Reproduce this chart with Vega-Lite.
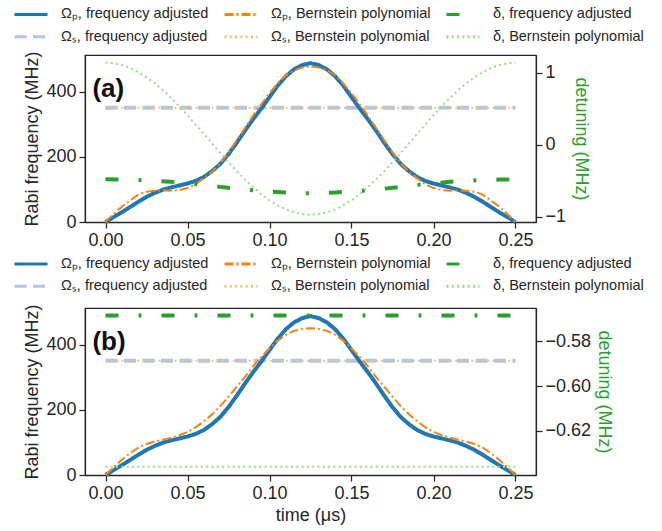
{
  "$schema": "https://vega.github.io/schema/vega-lite/v6.json",
  "padding": {"left": 12, "top": 4, "right": 5, "bottom": 5},
  "config": {
    "font": "Liberation Sans",
    "view": {"stroke": "#262626", "strokeWidth": 1.25},
    "axis": {
      "grid": false,
      "domainColor": "#262626",
      "domainWidth": 1.25,
      "tickColor": "#262626",
      "tickWidth": 1.25,
      "tickSize": 6,
      "labelFont": "Liberation Sans",
      "labelFontSize": 18,
      "labelColor": "#262626",
      "labelPadding": 3,
      "titleFont": "Liberation Sans",
      "titleFontSize": 18,
      "titleFontWeight": "normal",
      "titleColor": "#262626"
    },
    "legend": {
      "title": null,
      "columns": 3,
      "symbolType": "stroke",
      "symbolSize": 1089,
      "symbolStrokeWidth": 3,
      "clipHeight": 18,
      "rowPadding": 4.3,
      "columnPadding": 14,
      "labelOffset": 12,
      "labelFont": "Liberation Sans",
      "labelFontSize": 14.5,
      "labelColor": "#262626",
      "labelLimit": 300,
      "padding": 0
    }
  },
  "datasets": {
    "curves": [
      {"panel": "a", "series": "Ωₛ, frequency adjusted", "t": 0, "v": 350},
      {"panel": "a", "series": "Ωₛ, frequency adjusted", "t": 0.25, "v": 350},
      {"panel": "a", "series": "Ωₛ, Bernstein polynomial", "t": 0, "v": 350},
      {"panel": "a", "series": "Ωₛ, Bernstein polynomial", "t": 0.25, "v": 350},
      {"panel": "a", "series": "Ωₚ, frequency adjusted", "t": 0, "v": 0},
      {"panel": "a", "series": "Ωₚ, frequency adjusted", "t": 0.005, "v": 15},
      {"panel": "a", "series": "Ωₚ, frequency adjusted", "t": 0.01, "v": 30},
      {"panel": "a", "series": "Ωₚ, frequency adjusted", "t": 0.015, "v": 46},
      {"panel": "a", "series": "Ωₚ, frequency adjusted", "t": 0.02, "v": 62},
      {"panel": "a", "series": "Ωₚ, frequency adjusted", "t": 0.025, "v": 77},
      {"panel": "a", "series": "Ωₚ, frequency adjusted", "t": 0.03, "v": 89},
      {"panel": "a", "series": "Ωₚ, frequency adjusted", "t": 0.035, "v": 99},
      {"panel": "a", "series": "Ωₚ, frequency adjusted", "t": 0.04, "v": 106},
      {"panel": "a", "series": "Ωₚ, frequency adjusted", "t": 0.045, "v": 112},
      {"panel": "a", "series": "Ωₚ, frequency adjusted", "t": 0.05, "v": 118},
      {"panel": "a", "series": "Ωₚ, frequency adjusted", "t": 0.055, "v": 126},
      {"panel": "a", "series": "Ωₚ, frequency adjusted", "t": 0.06, "v": 138},
      {"panel": "a", "series": "Ωₚ, frequency adjusted", "t": 0.065, "v": 156},
      {"panel": "a", "series": "Ωₚ, frequency adjusted", "t": 0.07, "v": 178},
      {"panel": "a", "series": "Ωₚ, frequency adjusted", "t": 0.075, "v": 208},
      {"panel": "a", "series": "Ωₚ, frequency adjusted", "t": 0.08, "v": 243},
      {"panel": "a", "series": "Ωₚ, frequency adjusted", "t": 0.085, "v": 280},
      {"panel": "a", "series": "Ωₚ, frequency adjusted", "t": 0.09, "v": 315},
      {"panel": "a", "series": "Ωₚ, frequency adjusted", "t": 0.095, "v": 348},
      {"panel": "a", "series": "Ωₚ, frequency adjusted", "t": 0.1, "v": 383},
      {"panel": "a", "series": "Ωₚ, frequency adjusted", "t": 0.105, "v": 418},
      {"panel": "a", "series": "Ωₚ, frequency adjusted", "t": 0.11, "v": 447},
      {"panel": "a", "series": "Ωₚ, frequency adjusted", "t": 0.115, "v": 468},
      {"panel": "a", "series": "Ωₚ, frequency adjusted", "t": 0.12, "v": 481},
      {"panel": "a", "series": "Ωₚ, frequency adjusted", "t": 0.125, "v": 487},
      {"panel": "a", "series": "Ωₚ, frequency adjusted", "t": 0.13, "v": 481},
      {"panel": "a", "series": "Ωₚ, frequency adjusted", "t": 0.135, "v": 468},
      {"panel": "a", "series": "Ωₚ, frequency adjusted", "t": 0.14, "v": 447},
      {"panel": "a", "series": "Ωₚ, frequency adjusted", "t": 0.145, "v": 418},
      {"panel": "a", "series": "Ωₚ, frequency adjusted", "t": 0.15, "v": 383},
      {"panel": "a", "series": "Ωₚ, frequency adjusted", "t": 0.155, "v": 348},
      {"panel": "a", "series": "Ωₚ, frequency adjusted", "t": 0.16, "v": 315},
      {"panel": "a", "series": "Ωₚ, frequency adjusted", "t": 0.165, "v": 280},
      {"panel": "a", "series": "Ωₚ, frequency adjusted", "t": 0.17, "v": 243},
      {"panel": "a", "series": "Ωₚ, frequency adjusted", "t": 0.175, "v": 208},
      {"panel": "a", "series": "Ωₚ, frequency adjusted", "t": 0.18, "v": 178},
      {"panel": "a", "series": "Ωₚ, frequency adjusted", "t": 0.185, "v": 156},
      {"panel": "a", "series": "Ωₚ, frequency adjusted", "t": 0.19, "v": 138},
      {"panel": "a", "series": "Ωₚ, frequency adjusted", "t": 0.195, "v": 126},
      {"panel": "a", "series": "Ωₚ, frequency adjusted", "t": 0.2, "v": 118},
      {"panel": "a", "series": "Ωₚ, frequency adjusted", "t": 0.205, "v": 112},
      {"panel": "a", "series": "Ωₚ, frequency adjusted", "t": 0.21, "v": 106},
      {"panel": "a", "series": "Ωₚ, frequency adjusted", "t": 0.215, "v": 99},
      {"panel": "a", "series": "Ωₚ, frequency adjusted", "t": 0.22, "v": 89},
      {"panel": "a", "series": "Ωₚ, frequency adjusted", "t": 0.225, "v": 77},
      {"panel": "a", "series": "Ωₚ, frequency adjusted", "t": 0.23, "v": 62},
      {"panel": "a", "series": "Ωₚ, frequency adjusted", "t": 0.235, "v": 46},
      {"panel": "a", "series": "Ωₚ, frequency adjusted", "t": 0.24, "v": 30},
      {"panel": "a", "series": "Ωₚ, frequency adjusted", "t": 0.245, "v": 15},
      {"panel": "a", "series": "Ωₚ, frequency adjusted", "t": 0.25, "v": 0},
      {"panel": "a", "series": "Ωₚ, Bernstein polynomial", "t": 0, "v": 0},
      {"panel": "a", "series": "Ωₚ, Bernstein polynomial", "t": 0.005, "v": 25},
      {"panel": "a", "series": "Ωₚ, Bernstein polynomial", "t": 0.01, "v": 47},
      {"panel": "a", "series": "Ωₚ, Bernstein polynomial", "t": 0.015, "v": 66},
      {"panel": "a", "series": "Ωₚ, Bernstein polynomial", "t": 0.02, "v": 84},
      {"panel": "a", "series": "Ωₚ, Bernstein polynomial", "t": 0.025, "v": 93},
      {"panel": "a", "series": "Ωₚ, Bernstein polynomial", "t": 0.03, "v": 96},
      {"panel": "a", "series": "Ωₚ, Bernstein polynomial", "t": 0.035, "v": 97},
      {"panel": "a", "series": "Ωₚ, Bernstein polynomial", "t": 0.04, "v": 96},
      {"panel": "a", "series": "Ωₚ, Bernstein polynomial", "t": 0.045, "v": 98},
      {"panel": "a", "series": "Ωₚ, Bernstein polynomial", "t": 0.05, "v": 104},
      {"panel": "a", "series": "Ωₚ, Bernstein polynomial", "t": 0.055, "v": 116},
      {"panel": "a", "series": "Ωₚ, Bernstein polynomial", "t": 0.06, "v": 134},
      {"panel": "a", "series": "Ωₚ, Bernstein polynomial", "t": 0.065, "v": 154},
      {"panel": "a", "series": "Ωₚ, Bernstein polynomial", "t": 0.07, "v": 180},
      {"panel": "a", "series": "Ωₚ, Bernstein polynomial", "t": 0.075, "v": 213},
      {"panel": "a", "series": "Ωₚ, Bernstein polynomial", "t": 0.08, "v": 250},
      {"panel": "a", "series": "Ωₚ, Bernstein polynomial", "t": 0.085, "v": 288},
      {"panel": "a", "series": "Ωₚ, Bernstein polynomial", "t": 0.09, "v": 326},
      {"panel": "a", "series": "Ωₚ, Bernstein polynomial", "t": 0.095, "v": 361},
      {"panel": "a", "series": "Ωₚ, Bernstein polynomial", "t": 0.1, "v": 395},
      {"panel": "a", "series": "Ωₚ, Bernstein polynomial", "t": 0.105, "v": 425},
      {"panel": "a", "series": "Ωₚ, Bernstein polynomial", "t": 0.11, "v": 450},
      {"panel": "a", "series": "Ωₚ, Bernstein polynomial", "t": 0.115, "v": 465},
      {"panel": "a", "series": "Ωₚ, Bernstein polynomial", "t": 0.12, "v": 474},
      {"panel": "a", "series": "Ωₚ, Bernstein polynomial", "t": 0.125, "v": 477},
      {"panel": "a", "series": "Ωₚ, Bernstein polynomial", "t": 0.13, "v": 474},
      {"panel": "a", "series": "Ωₚ, Bernstein polynomial", "t": 0.135, "v": 465},
      {"panel": "a", "series": "Ωₚ, Bernstein polynomial", "t": 0.14, "v": 450},
      {"panel": "a", "series": "Ωₚ, Bernstein polynomial", "t": 0.145, "v": 425},
      {"panel": "a", "series": "Ωₚ, Bernstein polynomial", "t": 0.15, "v": 395},
      {"panel": "a", "series": "Ωₚ, Bernstein polynomial", "t": 0.155, "v": 361},
      {"panel": "a", "series": "Ωₚ, Bernstein polynomial", "t": 0.16, "v": 326},
      {"panel": "a", "series": "Ωₚ, Bernstein polynomial", "t": 0.165, "v": 288},
      {"panel": "a", "series": "Ωₚ, Bernstein polynomial", "t": 0.17, "v": 250},
      {"panel": "a", "series": "Ωₚ, Bernstein polynomial", "t": 0.175, "v": 213},
      {"panel": "a", "series": "Ωₚ, Bernstein polynomial", "t": 0.18, "v": 180},
      {"panel": "a", "series": "Ωₚ, Bernstein polynomial", "t": 0.185, "v": 154},
      {"panel": "a", "series": "Ωₚ, Bernstein polynomial", "t": 0.19, "v": 134},
      {"panel": "a", "series": "Ωₚ, Bernstein polynomial", "t": 0.195, "v": 116},
      {"panel": "a", "series": "Ωₚ, Bernstein polynomial", "t": 0.2, "v": 104},
      {"panel": "a", "series": "Ωₚ, Bernstein polynomial", "t": 0.205, "v": 98},
      {"panel": "a", "series": "Ωₚ, Bernstein polynomial", "t": 0.21, "v": 96},
      {"panel": "a", "series": "Ωₚ, Bernstein polynomial", "t": 0.215, "v": 97},
      {"panel": "a", "series": "Ωₚ, Bernstein polynomial", "t": 0.22, "v": 96},
      {"panel": "a", "series": "Ωₚ, Bernstein polynomial", "t": 0.225, "v": 93},
      {"panel": "a", "series": "Ωₚ, Bernstein polynomial", "t": 0.23, "v": 84},
      {"panel": "a", "series": "Ωₚ, Bernstein polynomial", "t": 0.235, "v": 66},
      {"panel": "a", "series": "Ωₚ, Bernstein polynomial", "t": 0.24, "v": 47},
      {"panel": "a", "series": "Ωₚ, Bernstein polynomial", "t": 0.245, "v": 25},
      {"panel": "a", "series": "Ωₚ, Bernstein polynomial", "t": 0.25, "v": 0},
      {"panel": "a", "series": "δ, frequency adjusted", "t": 0, "v": -0.477},
      {"panel": "a", "series": "δ, frequency adjusted", "t": 0.01, "v": -0.481},
      {"panel": "a", "series": "δ, frequency adjusted", "t": 0.02, "v": -0.487},
      {"panel": "a", "series": "δ, frequency adjusted", "t": 0.03, "v": -0.497},
      {"panel": "a", "series": "δ, frequency adjusted", "t": 0.04, "v": -0.512},
      {"panel": "a", "series": "δ, frequency adjusted", "t": 0.05, "v": -0.532},
      {"panel": "a", "series": "δ, frequency adjusted", "t": 0.06, "v": -0.555},
      {"panel": "a", "series": "δ, frequency adjusted", "t": 0.07, "v": -0.582},
      {"panel": "a", "series": "δ, frequency adjusted", "t": 0.08, "v": -0.607},
      {"panel": "a", "series": "δ, frequency adjusted", "t": 0.09, "v": -0.628},
      {"panel": "a", "series": "δ, frequency adjusted", "t": 0.1, "v": -0.646},
      {"panel": "a", "series": "δ, frequency adjusted", "t": 0.11, "v": -0.66},
      {"panel": "a", "series": "δ, frequency adjusted", "t": 0.12, "v": -0.668},
      {"panel": "a", "series": "δ, frequency adjusted", "t": 0.125, "v": -0.67},
      {"panel": "a", "series": "δ, frequency adjusted", "t": 0.13, "v": -0.668},
      {"panel": "a", "series": "δ, frequency adjusted", "t": 0.14, "v": -0.66},
      {"panel": "a", "series": "δ, frequency adjusted", "t": 0.15, "v": -0.646},
      {"panel": "a", "series": "δ, frequency adjusted", "t": 0.16, "v": -0.628},
      {"panel": "a", "series": "δ, frequency adjusted", "t": 0.17, "v": -0.607},
      {"panel": "a", "series": "δ, frequency adjusted", "t": 0.18, "v": -0.582},
      {"panel": "a", "series": "δ, frequency adjusted", "t": 0.19, "v": -0.555},
      {"panel": "a", "series": "δ, frequency adjusted", "t": 0.2, "v": -0.532},
      {"panel": "a", "series": "δ, frequency adjusted", "t": 0.21, "v": -0.512},
      {"panel": "a", "series": "δ, frequency adjusted", "t": 0.22, "v": -0.497},
      {"panel": "a", "series": "δ, frequency adjusted", "t": 0.23, "v": -0.487},
      {"panel": "a", "series": "δ, frequency adjusted", "t": 0.24, "v": -0.481},
      {"panel": "a", "series": "δ, frequency adjusted", "t": 0.25, "v": -0.477},
      {"panel": "a", "series": "δ, Bernstein polynomial", "t": 0, "v": 1.143},
      {"panel": "a", "series": "δ, Bernstein polynomial", "t": 0.005, "v": 1.135},
      {"panel": "a", "series": "δ, Bernstein polynomial", "t": 0.01, "v": 1.11},
      {"panel": "a", "series": "δ, Bernstein polynomial", "t": 0.015, "v": 1.069},
      {"panel": "a", "series": "δ, Bernstein polynomial", "t": 0.02, "v": 1.012},
      {"panel": "a", "series": "δ, Bernstein polynomial", "t": 0.025, "v": 0.941},
      {"panel": "a", "series": "δ, Bernstein polynomial", "t": 0.03, "v": 0.857},
      {"panel": "a", "series": "δ, Bernstein polynomial", "t": 0.035, "v": 0.76},
      {"panel": "a", "series": "δ, Bernstein polynomial", "t": 0.04, "v": 0.653},
      {"panel": "a", "series": "δ, Bernstein polynomial", "t": 0.045, "v": 0.537},
      {"panel": "a", "series": "δ, Bernstein polynomial", "t": 0.05, "v": 0.413},
      {"panel": "a", "series": "δ, Bernstein polynomial", "t": 0.055, "v": 0.285},
      {"panel": "a", "series": "δ, Bernstein polynomial", "t": 0.06, "v": 0.153},
      {"panel": "a", "series": "δ, Bernstein polynomial", "t": 0.065, "v": 0.021},
      {"panel": "a", "series": "δ, Bernstein polynomial", "t": 0.07, "v": -0.111},
      {"panel": "a", "series": "δ, Bernstein polynomial", "t": 0.075, "v": -0.239},
      {"panel": "a", "series": "δ, Bernstein polynomial", "t": 0.08, "v": -0.363},
      {"panel": "a", "series": "δ, Bernstein polynomial", "t": 0.085, "v": -0.479},
      {"panel": "a", "series": "δ, Bernstein polynomial", "t": 0.09, "v": -0.586},
      {"panel": "a", "series": "δ, Bernstein polynomial", "t": 0.095, "v": -0.683},
      {"panel": "a", "series": "δ, Bernstein polynomial", "t": 0.1, "v": -0.767},
      {"panel": "a", "series": "δ, Bernstein polynomial", "t": 0.105, "v": -0.838},
      {"panel": "a", "series": "δ, Bernstein polynomial", "t": 0.11, "v": -0.895},
      {"panel": "a", "series": "δ, Bernstein polynomial", "t": 0.115, "v": -0.936},
      {"panel": "a", "series": "δ, Bernstein polynomial", "t": 0.12, "v": -0.961},
      {"panel": "a", "series": "δ, Bernstein polynomial", "t": 0.125, "v": -0.969},
      {"panel": "a", "series": "δ, Bernstein polynomial", "t": 0.13, "v": -0.961},
      {"panel": "a", "series": "δ, Bernstein polynomial", "t": 0.135, "v": -0.936},
      {"panel": "a", "series": "δ, Bernstein polynomial", "t": 0.14, "v": -0.895},
      {"panel": "a", "series": "δ, Bernstein polynomial", "t": 0.145, "v": -0.838},
      {"panel": "a", "series": "δ, Bernstein polynomial", "t": 0.15, "v": -0.767},
      {"panel": "a", "series": "δ, Bernstein polynomial", "t": 0.155, "v": -0.683},
      {"panel": "a", "series": "δ, Bernstein polynomial", "t": 0.16, "v": -0.586},
      {"panel": "a", "series": "δ, Bernstein polynomial", "t": 0.165, "v": -0.479},
      {"panel": "a", "series": "δ, Bernstein polynomial", "t": 0.17, "v": -0.363},
      {"panel": "a", "series": "δ, Bernstein polynomial", "t": 0.175, "v": -0.239},
      {"panel": "a", "series": "δ, Bernstein polynomial", "t": 0.18, "v": -0.111},
      {"panel": "a", "series": "δ, Bernstein polynomial", "t": 0.185, "v": 0.021},
      {"panel": "a", "series": "δ, Bernstein polynomial", "t": 0.19, "v": 0.153},
      {"panel": "a", "series": "δ, Bernstein polynomial", "t": 0.195, "v": 0.285},
      {"panel": "a", "series": "δ, Bernstein polynomial", "t": 0.2, "v": 0.413},
      {"panel": "a", "series": "δ, Bernstein polynomial", "t": 0.205, "v": 0.537},
      {"panel": "a", "series": "δ, Bernstein polynomial", "t": 0.21, "v": 0.653},
      {"panel": "a", "series": "δ, Bernstein polynomial", "t": 0.215, "v": 0.76},
      {"panel": "a", "series": "δ, Bernstein polynomial", "t": 0.22, "v": 0.857},
      {"panel": "a", "series": "δ, Bernstein polynomial", "t": 0.225, "v": 0.941},
      {"panel": "a", "series": "δ, Bernstein polynomial", "t": 0.23, "v": 1.012},
      {"panel": "a", "series": "δ, Bernstein polynomial", "t": 0.235, "v": 1.069},
      {"panel": "a", "series": "δ, Bernstein polynomial", "t": 0.24, "v": 1.11},
      {"panel": "a", "series": "δ, Bernstein polynomial", "t": 0.245, "v": 1.135},
      {"panel": "a", "series": "δ, Bernstein polynomial", "t": 0.25, "v": 1.143},

      {"panel": "b", "series": "Ωₛ, frequency adjusted", "t": 0, "v": 350},
      {"panel": "b", "series": "Ωₛ, frequency adjusted", "t": 0.25, "v": 350},
      {"panel": "b", "series": "Ωₛ, Bernstein polynomial", "t": 0, "v": 350},
      {"panel": "b", "series": "Ωₛ, Bernstein polynomial", "t": 0.25, "v": 350},
      {"panel": "b", "series": "Ωₚ, frequency adjusted", "t": 0, "v": 0},
      {"panel": "b", "series": "Ωₚ, frequency adjusted", "t": 0.005, "v": 15},
      {"panel": "b", "series": "Ωₚ, frequency adjusted", "t": 0.01, "v": 30},
      {"panel": "b", "series": "Ωₚ, frequency adjusted", "t": 0.015, "v": 46},
      {"panel": "b", "series": "Ωₚ, frequency adjusted", "t": 0.02, "v": 62},
      {"panel": "b", "series": "Ωₚ, frequency adjusted", "t": 0.025, "v": 77},
      {"panel": "b", "series": "Ωₚ, frequency adjusted", "t": 0.03, "v": 89},
      {"panel": "b", "series": "Ωₚ, frequency adjusted", "t": 0.035, "v": 99},
      {"panel": "b", "series": "Ωₚ, frequency adjusted", "t": 0.04, "v": 106},
      {"panel": "b", "series": "Ωₚ, frequency adjusted", "t": 0.045, "v": 112},
      {"panel": "b", "series": "Ωₚ, frequency adjusted", "t": 0.05, "v": 118},
      {"panel": "b", "series": "Ωₚ, frequency adjusted", "t": 0.055, "v": 126},
      {"panel": "b", "series": "Ωₚ, frequency adjusted", "t": 0.06, "v": 138},
      {"panel": "b", "series": "Ωₚ, frequency adjusted", "t": 0.065, "v": 156},
      {"panel": "b", "series": "Ωₚ, frequency adjusted", "t": 0.07, "v": 178},
      {"panel": "b", "series": "Ωₚ, frequency adjusted", "t": 0.075, "v": 208},
      {"panel": "b", "series": "Ωₚ, frequency adjusted", "t": 0.08, "v": 243},
      {"panel": "b", "series": "Ωₚ, frequency adjusted", "t": 0.085, "v": 280},
      {"panel": "b", "series": "Ωₚ, frequency adjusted", "t": 0.09, "v": 315},
      {"panel": "b", "series": "Ωₚ, frequency adjusted", "t": 0.095, "v": 348},
      {"panel": "b", "series": "Ωₚ, frequency adjusted", "t": 0.1, "v": 383},
      {"panel": "b", "series": "Ωₚ, frequency adjusted", "t": 0.105, "v": 418},
      {"panel": "b", "series": "Ωₚ, frequency adjusted", "t": 0.11, "v": 447},
      {"panel": "b", "series": "Ωₚ, frequency adjusted", "t": 0.115, "v": 468},
      {"panel": "b", "series": "Ωₚ, frequency adjusted", "t": 0.12, "v": 481},
      {"panel": "b", "series": "Ωₚ, frequency adjusted", "t": 0.125, "v": 487},
      {"panel": "b", "series": "Ωₚ, frequency adjusted", "t": 0.13, "v": 481},
      {"panel": "b", "series": "Ωₚ, frequency adjusted", "t": 0.135, "v": 468},
      {"panel": "b", "series": "Ωₚ, frequency adjusted", "t": 0.14, "v": 447},
      {"panel": "b", "series": "Ωₚ, frequency adjusted", "t": 0.145, "v": 418},
      {"panel": "b", "series": "Ωₚ, frequency adjusted", "t": 0.15, "v": 383},
      {"panel": "b", "series": "Ωₚ, frequency adjusted", "t": 0.155, "v": 348},
      {"panel": "b", "series": "Ωₚ, frequency adjusted", "t": 0.16, "v": 315},
      {"panel": "b", "series": "Ωₚ, frequency adjusted", "t": 0.165, "v": 280},
      {"panel": "b", "series": "Ωₚ, frequency adjusted", "t": 0.17, "v": 243},
      {"panel": "b", "series": "Ωₚ, frequency adjusted", "t": 0.175, "v": 208},
      {"panel": "b", "series": "Ωₚ, frequency adjusted", "t": 0.18, "v": 178},
      {"panel": "b", "series": "Ωₚ, frequency adjusted", "t": 0.185, "v": 156},
      {"panel": "b", "series": "Ωₚ, frequency adjusted", "t": 0.19, "v": 138},
      {"panel": "b", "series": "Ωₚ, frequency adjusted", "t": 0.195, "v": 126},
      {"panel": "b", "series": "Ωₚ, frequency adjusted", "t": 0.2, "v": 118},
      {"panel": "b", "series": "Ωₚ, frequency adjusted", "t": 0.205, "v": 112},
      {"panel": "b", "series": "Ωₚ, frequency adjusted", "t": 0.21, "v": 106},
      {"panel": "b", "series": "Ωₚ, frequency adjusted", "t": 0.215, "v": 99},
      {"panel": "b", "series": "Ωₚ, frequency adjusted", "t": 0.22, "v": 89},
      {"panel": "b", "series": "Ωₚ, frequency adjusted", "t": 0.225, "v": 77},
      {"panel": "b", "series": "Ωₚ, frequency adjusted", "t": 0.23, "v": 62},
      {"panel": "b", "series": "Ωₚ, frequency adjusted", "t": 0.235, "v": 46},
      {"panel": "b", "series": "Ωₚ, frequency adjusted", "t": 0.24, "v": 30},
      {"panel": "b", "series": "Ωₚ, frequency adjusted", "t": 0.245, "v": 15},
      {"panel": "b", "series": "Ωₚ, frequency adjusted", "t": 0.25, "v": 0},
      {"panel": "b", "series": "Ωₚ, Bernstein polynomial", "t": 0, "v": 0},
      {"panel": "b", "series": "Ωₚ, Bernstein polynomial", "t": 0.005, "v": 24},
      {"panel": "b", "series": "Ωₚ, Bernstein polynomial", "t": 0.01, "v": 47},
      {"panel": "b", "series": "Ωₚ, Bernstein polynomial", "t": 0.015, "v": 67},
      {"panel": "b", "series": "Ωₚ, Bernstein polynomial", "t": 0.02, "v": 84},
      {"panel": "b", "series": "Ωₚ, Bernstein polynomial", "t": 0.025, "v": 95},
      {"panel": "b", "series": "Ωₚ, Bernstein polynomial", "t": 0.03, "v": 102},
      {"panel": "b", "series": "Ωₚ, Bernstein polynomial", "t": 0.035, "v": 108},
      {"panel": "b", "series": "Ωₚ, Bernstein polynomial", "t": 0.04, "v": 114},
      {"panel": "b", "series": "Ωₚ, Bernstein polynomial", "t": 0.045, "v": 122},
      {"panel": "b", "series": "Ωₚ, Bernstein polynomial", "t": 0.05, "v": 132},
      {"panel": "b", "series": "Ωₚ, Bernstein polynomial", "t": 0.055, "v": 146},
      {"panel": "b", "series": "Ωₚ, Bernstein polynomial", "t": 0.06, "v": 165},
      {"panel": "b", "series": "Ωₚ, Bernstein polynomial", "t": 0.065, "v": 186},
      {"panel": "b", "series": "Ωₚ, Bernstein polynomial", "t": 0.07, "v": 211},
      {"panel": "b", "series": "Ωₚ, Bernstein polynomial", "t": 0.075, "v": 240},
      {"panel": "b", "series": "Ωₚ, Bernstein polynomial", "t": 0.08, "v": 270},
      {"panel": "b", "series": "Ωₚ, Bernstein polynomial", "t": 0.085, "v": 300},
      {"panel": "b", "series": "Ωₚ, Bernstein polynomial", "t": 0.09, "v": 333},
      {"panel": "b", "series": "Ωₚ, Bernstein polynomial", "t": 0.095, "v": 362},
      {"panel": "b", "series": "Ωₚ, Bernstein polynomial", "t": 0.1, "v": 388},
      {"panel": "b", "series": "Ωₚ, Bernstein polynomial", "t": 0.105, "v": 412},
      {"panel": "b", "series": "Ωₚ, Bernstein polynomial", "t": 0.11, "v": 430},
      {"panel": "b", "series": "Ωₚ, Bernstein polynomial", "t": 0.115, "v": 442},
      {"panel": "b", "series": "Ωₚ, Bernstein polynomial", "t": 0.12, "v": 448},
      {"panel": "b", "series": "Ωₚ, Bernstein polynomial", "t": 0.125, "v": 450},
      {"panel": "b", "series": "Ωₚ, Bernstein polynomial", "t": 0.13, "v": 448},
      {"panel": "b", "series": "Ωₚ, Bernstein polynomial", "t": 0.135, "v": 442},
      {"panel": "b", "series": "Ωₚ, Bernstein polynomial", "t": 0.14, "v": 430},
      {"panel": "b", "series": "Ωₚ, Bernstein polynomial", "t": 0.145, "v": 412},
      {"panel": "b", "series": "Ωₚ, Bernstein polynomial", "t": 0.15, "v": 388},
      {"panel": "b", "series": "Ωₚ, Bernstein polynomial", "t": 0.155, "v": 362},
      {"panel": "b", "series": "Ωₚ, Bernstein polynomial", "t": 0.16, "v": 333},
      {"panel": "b", "series": "Ωₚ, Bernstein polynomial", "t": 0.165, "v": 300},
      {"panel": "b", "series": "Ωₚ, Bernstein polynomial", "t": 0.17, "v": 270},
      {"panel": "b", "series": "Ωₚ, Bernstein polynomial", "t": 0.175, "v": 240},
      {"panel": "b", "series": "Ωₚ, Bernstein polynomial", "t": 0.18, "v": 211},
      {"panel": "b", "series": "Ωₚ, Bernstein polynomial", "t": 0.185, "v": 186},
      {"panel": "b", "series": "Ωₚ, Bernstein polynomial", "t": 0.19, "v": 165},
      {"panel": "b", "series": "Ωₚ, Bernstein polynomial", "t": 0.195, "v": 146},
      {"panel": "b", "series": "Ωₚ, Bernstein polynomial", "t": 0.2, "v": 132},
      {"panel": "b", "series": "Ωₚ, Bernstein polynomial", "t": 0.205, "v": 122},
      {"panel": "b", "series": "Ωₚ, Bernstein polynomial", "t": 0.21, "v": 114},
      {"panel": "b", "series": "Ωₚ, Bernstein polynomial", "t": 0.215, "v": 108},
      {"panel": "b", "series": "Ωₚ, Bernstein polynomial", "t": 0.22, "v": 102},
      {"panel": "b", "series": "Ωₚ, Bernstein polynomial", "t": 0.225, "v": 95},
      {"panel": "b", "series": "Ωₚ, Bernstein polynomial", "t": 0.23, "v": 84},
      {"panel": "b", "series": "Ωₚ, Bernstein polynomial", "t": 0.235, "v": 67},
      {"panel": "b", "series": "Ωₚ, Bernstein polynomial", "t": 0.24, "v": 47},
      {"panel": "b", "series": "Ωₚ, Bernstein polynomial", "t": 0.245, "v": 24},
      {"panel": "b", "series": "Ωₚ, Bernstein polynomial", "t": 0.25, "v": 0},
      {"panel": "b", "series": "δ, frequency adjusted", "t": 0, "v": -0.5686},
      {"panel": "b", "series": "δ, frequency adjusted", "t": 0.25, "v": -0.5686},
      {"panel": "b", "series": "δ, Bernstein polynomial", "t": 0, "v": -0.636},
      {"panel": "b", "series": "δ, Bernstein polynomial", "t": 0.25, "v": -0.636}
    ],
    "tags": [
      {"panel": "a", "label": "(a)", "t": -0.008, "v": 408},
      {"panel": "b", "label": "(b)", "t": -0.008, "v": 408}
    ]
  },
  "spacing": 4,
  "resolve": {"scale": {"color": "independent", "strokeDash": "independent"}},
  "vconcat": [
    {
      "width": 451,
      "height": 167,
      "layer": [
        {
          "data": {"name": "curves"},
          "transform": [
            {"filter": "datum.panel == 'a'"},
            {"filter": {"field": "series", "oneOf": ["Ωₛ, frequency adjusted", "Ωₛ, Bernstein polynomial", "Ωₚ, frequency adjusted", "Ωₚ, Bernstein polynomial"]}}
          ],
          "mark": {"type": "line"},
          "encoding": {
            "x": {"field": "t", "type": "quantitative", "scale": {"domain": [-0.0125, 0.2625], "nice": false, "zero": false},
                  "axis": {"title": null, "values": [0, 0.05, 0.1, 0.15, 0.2, 0.25], "format": ".2f"}},
            "y": {"field": "v", "type": "quantitative", "scale": {"domain": [0, 512], "nice": false},
                  "axis": {"title": "Rabi frequency (MHz)", "values": [0, 200, 400], "titlePadding": 4}},
            "color": {"field": "series", "type": "nominal",
              "scale": {"domain": ["Ωₚ, frequency adjusted", "Ωₛ, frequency adjusted", "Ωₚ, Bernstein polynomial", "Ωₛ, Bernstein polynomial", "δ, frequency adjusted", "δ, Bernstein polynomial"],
                        "range": ["#1f77b4", "#aec7e8", "#ff7f0e", "#ffbb78", "#2ca02c", "#98df8a"]},
              "legend": {"orient": "none", "legendX": -72, "legendY": -49.6}},
            "strokeDash": {"field": "series", "type": "nominal",
              "scale": {"domain": ["Ωₚ, frequency adjusted", "Ωₛ, frequency adjusted", "Ωₚ, Bernstein polynomial", "Ωₛ, Bernstein polynomial", "δ, frequency adjusted", "δ, Bernstein polynomial"],
                        "range": [[1, 0], [12, 6.5], [9, 3, 2, 3], [2, 3.3], [13, 20, 3, 20], [2, 3.3]]},
              "legend": {"orient": "none", "legendX": -72, "legendY": -49.6}},
            "strokeWidth": {"condition": {"test": "indexof(datum.series, 'Bernstein') >= 0", "value": 2}, "value": 4}
          }
        },
        {
          "data": {"name": "curves"},
          "transform": [
            {"filter": "datum.panel == 'a'"},
            {"filter": {"field": "series", "oneOf": ["δ, frequency adjusted", "δ, Bernstein polynomial"]}}
          ],
          "mark": {"type": "line"},
          "encoding": {
            "x": {"field": "t", "type": "quantitative", "scale": {"domain": [-0.0125, 0.2625], "nice": false, "zero": false},
                  "axis": {"title": null, "values": [0, 0.05, 0.1, 0.15, 0.2, 0.25], "format": ".2f"}},
            "y": {"field": "v", "type": "quantitative", "scale": {"domain": [-1.07, 1.25], "nice": false, "zero": false},
                  "axis": {"orient": "right", "title": "detuning (MHz)", "titleColor": "#2ca02c", "values": [-1, 0, 1], "format": "d", "titlePadding": 6}},
            "color": {"field": "series", "type": "nominal", "legend": {"orient": "none", "legendX": -72, "legendY": -49.6}},
            "strokeDash": {"field": "series", "type": "nominal", "legend": {"orient": "none", "legendX": -72, "legendY": -49.6}},
            "strokeWidth": {"condition": {"test": "indexof(datum.series, 'Bernstein') >= 0", "value": 2}, "value": 4}
          }
        },
        {
          "data": {"name": "tags"},
          "transform": [{"filter": "datum.panel == 'a'"}],
          "mark": {"type": "text", "align": "left", "baseline": "middle", "fontSize": 26, "fontWeight": "bold", "color": "#111111"},
          "encoding": {
            "x": {"field": "t", "type": "quantitative", "scale": {"domain": [-0.0125, 0.2625], "nice": false, "zero": false},
                  "axis": {"title": null, "values": [0, 0.05, 0.1, 0.15, 0.2, 0.25], "format": ".2f"}},
            "y": {"field": "v", "type": "quantitative", "scale": {"domain": [0, 512], "nice": false}, "axis": null},
            "text": {"field": "label", "type": "nominal"}
          }
        }
      ],
      "resolve": {"scale": {"y": "independent"}}
    },
    {
      "width": 451,
      "height": 167,
      "layer": [
        {
          "data": {"name": "curves"},
          "transform": [
            {"filter": "datum.panel == 'b'"},
            {"filter": {"field": "series", "oneOf": ["Ωₛ, frequency adjusted", "Ωₛ, Bernstein polynomial", "Ωₚ, frequency adjusted", "Ωₚ, Bernstein polynomial"]}}
          ],
          "mark": {"type": "line"},
          "encoding": {
            "x": {"field": "t", "type": "quantitative", "scale": {"domain": [-0.0125, 0.2625], "nice": false, "zero": false},
                  "axis": {"title": "time (μs)", "values": [0, 0.05, 0.1, 0.15, 0.2, 0.25], "format": ".2f", "titlePadding": 4}},
            "y": {"field": "v", "type": "quantitative", "scale": {"domain": [0, 512], "nice": false},
                  "axis": {"title": "Rabi frequency (MHz)", "values": [0, 200, 400], "titlePadding": 4}},
            "color": {"field": "series", "type": "nominal",
              "scale": {"domain": ["Ωₚ, frequency adjusted", "Ωₛ, frequency adjusted", "Ωₚ, Bernstein polynomial", "Ωₛ, Bernstein polynomial", "δ, frequency adjusted", "δ, Bernstein polynomial"],
                        "range": ["#1f77b4", "#aec7e8", "#ff7f0e", "#ffbb78", "#2ca02c", "#98df8a"]},
              "legend": {"orient": "none", "legendX": -72, "legendY": -53.1}},
            "strokeDash": {"field": "series", "type": "nominal",
              "scale": {"domain": ["Ωₚ, frequency adjusted", "Ωₛ, frequency adjusted", "Ωₚ, Bernstein polynomial", "Ωₛ, Bernstein polynomial", "δ, frequency adjusted", "δ, Bernstein polynomial"],
                        "range": [[1, 0], [12, 6.5], [9, 3, 2, 3], [2, 3.3], [13, 20, 3, 20], [2, 3.3]]},
              "legend": {"orient": "none", "legendX": -72, "legendY": -53.1}},
            "strokeWidth": {"condition": {"test": "indexof(datum.series, 'Bernstein') >= 0", "value": 2}, "value": 4}
          }
        },
        {
          "data": {"name": "curves"},
          "transform": [
            {"filter": "datum.panel == 'b'"},
            {"filter": {"field": "series", "oneOf": ["δ, frequency adjusted", "δ, Bernstein polynomial"]}}
          ],
          "mark": {"type": "line"},
          "encoding": {
            "x": {"field": "t", "type": "quantitative", "scale": {"domain": [-0.0125, 0.2625], "nice": false, "zero": false},
                  "axis": {"title": "time (μs)", "values": [0, 0.05, 0.1, 0.15, 0.2, 0.25], "format": ".2f", "titlePadding": 4}},
            "y": {"field": "v", "type": "quantitative", "scale": {"domain": [-0.6397, -0.5652], "nice": false, "zero": false},
                  "axis": {"orient": "right", "title": "detuning (MHz)", "titleColor": "#2ca02c", "values": [-0.62, -0.6, -0.58], "format": ".2f", "titlePadding": 4}},
            "color": {"field": "series", "type": "nominal", "legend": {"orient": "none", "legendX": -72, "legendY": -53.1}},
            "strokeDash": {"field": "series", "type": "nominal", "legend": {"orient": "none", "legendX": -72, "legendY": -53.1}},
            "strokeWidth": {"condition": {"test": "indexof(datum.series, 'Bernstein') >= 0", "value": 2}, "value": 4}
          }
        },
        {
          "data": {"name": "tags"},
          "transform": [{"filter": "datum.panel == 'b'"}],
          "mark": {"type": "text", "align": "left", "baseline": "middle", "fontSize": 26, "fontWeight": "bold", "color": "#111111"},
          "encoding": {
            "x": {"field": "t", "type": "quantitative", "scale": {"domain": [-0.0125, 0.2625], "nice": false, "zero": false},
                  "axis": {"title": "time (μs)", "values": [0, 0.05, 0.1, 0.15, 0.2, 0.25], "format": ".2f", "titlePadding": 4}},
            "y": {"field": "v", "type": "quantitative", "scale": {"domain": [0, 512], "nice": false}, "axis": null},
            "text": {"field": "label", "type": "nominal"}
          }
        }
      ],
      "resolve": {"scale": {"y": "independent"}}
    }
  ]
}
